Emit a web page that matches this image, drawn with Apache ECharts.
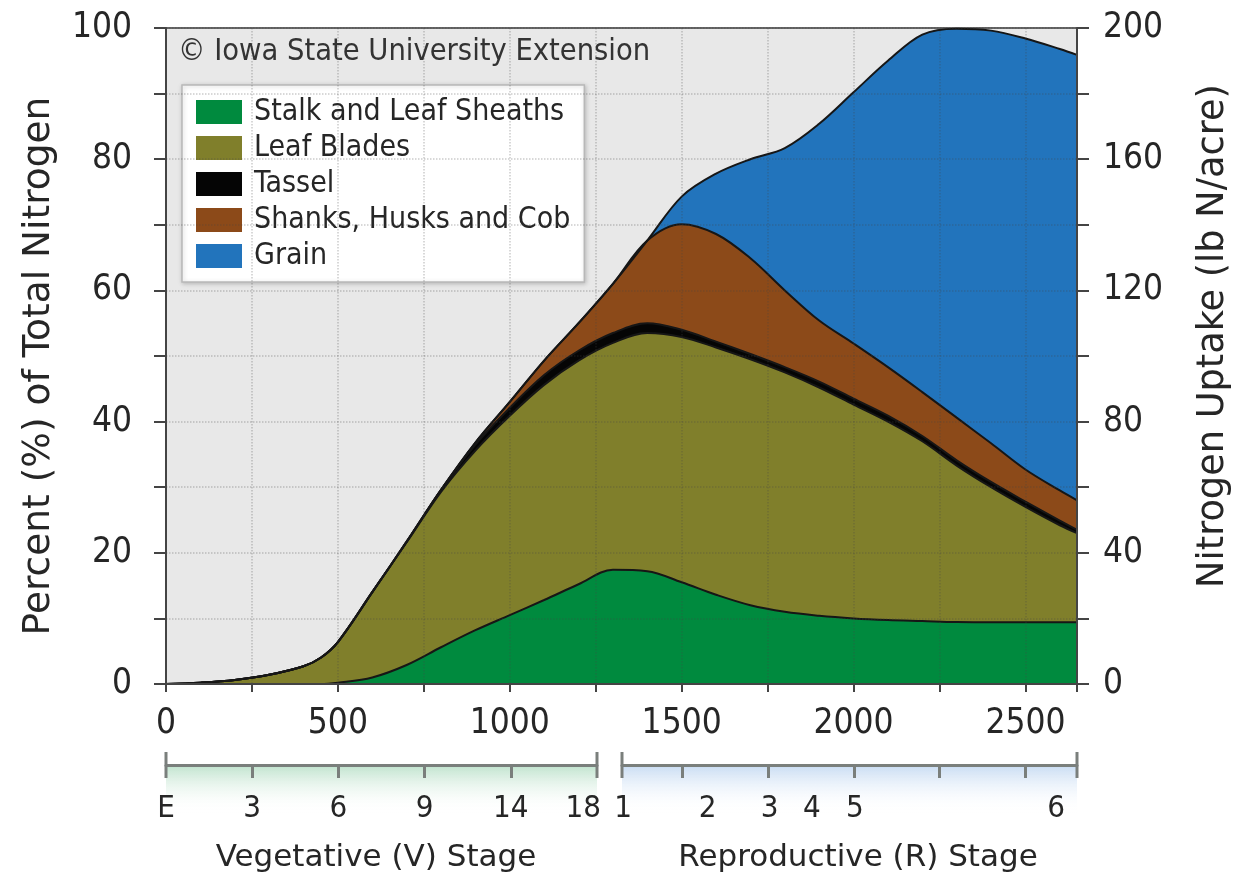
<!DOCTYPE html>
<html><head><meta charset="utf-8">
<script src="https://cdn.jsdelivr.net/npm/echarts@6/dist/echarts.min.js"></script>
<style>html,body{margin:0;padding:0;background:#fff}#c{width:1255px;height:879px}</style>
</head><body><div id="c"></div>
<script>
// Growing degree days (x positions of the samples)
const gdd = [0,100,200,300,400,450,500,600,700,800,900,1000,1100,1200,1300,1400,1500,1600,1700,1800,1900,2000,2100,2200,2300,2400,2500,2600,2650];
// Layer thickness (% of total N), stacked bottom to top
const stalk      = [0,0,0,0,0,0,0.2,1.0,2.9,5.6,8.2,10.5,12.8,15.2,17.4,17.2,15.5,13.6,12.0,11.0,10.4,10.0,9.75,9.6,9.45,9.4,9.4,9.4,9.4];
const leafBlades = [0,0.2,0.6,1.4,2.7,4.0,6.2,13.0,18.7,23.7,27.4,30.4,32.8,34.1,34.6,36.3,37.4,37.7,37.5,36.5,34.8,32.6,30.25,27.4,23.85,20.6,17.6,14.8,13.6];
const tassel     = [0,0,0,0,0,0,0,0,0.1,0.3,0.9,1.2,1.5,1.5,1.5,1.5,1.1,0.9,0.8,0.8,0.9,0.9,0.9,0.8,0.8,0.8,0.8,0.7,0.5];
const shanks     = [0,0,0,0,0,0,0,0,0,0,0.3,0.9,2.2,4.2,7.5,12.6,16.1,16.4,14.6,11.7,9.3,8.4,7.4,6.7,6.5,5.9,4.9,4.6,4.5];
const grain      = [0,0,0,0,0,0,0,0,0,0,0,0,0,0,0,0,4.2,9.2,15.1,21.7,30.0,38.3,46.7,54.5,59.3,62.9,65.7,67.3,67.9];

const seriesNames = ['Stalk and Leaf Sheaths','Leaf Blades','Tassel','Shanks, Husks and Cob','Grain'];
const xTickLabels = [0,500,1000,1500,2000,2500];

// Growth stage scales
const stageVTicks = [250,500,750,1000];
const stageVRange = [0,1250];
const stageVLabelPos = [0,250,500,750,1000,1210];
const stageVLabels = ['E','3','6','9','14','18'];
const stageRTicks = [1500,1750,2000,2250,2500];
const stageRRange = [1325,2650];
const stageRLabelPos = [1328,1574,1755,1878,2003,2589];
const stageRLabels = ['1','2','3','4','5','6'];

const FONT = 'DejaVu Sans';
const CFONT = "'DejaVu Sans Condensed', 'DejaVu Sans'";
const TXT = '#262626';
const fills = ['#008a3e','#807f2b','#050505','#8c4a19','#2274bc'];
const layers = [stalk, leafBlades, tassel, shanks, grain];
// cumulative tops of the stacked layers
const cumulative = layers.map((_, k) => gdd.map((x, i) => {
  let s = 0; for (let j = 0; j <= k; j++) s += layers[j][i]; return +s.toFixed(3);
}));

const chart = echarts.init(document.getElementById('c'), null, {renderer:'canvas'});

function stageAxis(gridIndex, range, ticks, labelPos, labels){
  return {
    gridIndex, type:'value', position:'top', min:range[0], max:range[1],
    axisLine:{show:true, onZero:false, symbol:['rect','rect'], symbolSize:[26,3], lineStyle:{color:'#7a7f7c', width:3}},
    axisTick:{show:true, inside:true, length:13, customValues:ticks, lineStyle:{color:'#7a7f7c', width:3}},
    axisLabel:{show:true, inside:true, margin:28, customValues:labelPos,
      formatter:(v)=>{const i = labelPos.indexOf(v); return i>=0 ? labels[i] : '';},
      fontFamily:CFONT, fontSize:31, color:TXT},
    splitLine:{show:false}
  };
}
function hiddenY(gridIndex){
  return {gridIndex, type:'value', min:0, max:1, show:false};
}

// draw from the top layer down so lower layers paint over upper cumulative areas
const series = [];
for (let k = layers.length - 1; k >= 0; k--) {
  series.push({
    name: seriesNames[k], type:'line', xAxisIndex:0, yAxisIndex:0, smooth:0.35, symbol:'none',
    data: gdd.map((x,i)=>[x, cumulative[k][i]]),
    itemStyle:{color:fills[k]},
    lineStyle:{color:'#161616', width:2},
    areaStyle:{color:fills[k], opacity:1},
    z:2
  });
}

const option = {
  animation:false,
  textStyle:{fontFamily:FONT},
  title:[
    {text:'© Iowa State University Extension', left:178, top:37, padding:0,
     textStyle:{fontFamily:CFONT, fontSize:30.5, fontWeight:'normal', color:'#333'}},
    {text:'Vegetative (V) Stage', left:376, top:842, padding:0, textAlign:'center',
     textStyle:{fontFamily:FONT, fontSize:31, fontWeight:'normal', color:TXT}},
    {text:'Reproductive (R) Stage', left:858, top:842, padding:0, textAlign:'center',
     textStyle:{fontFamily:FONT, fontSize:31, fontWeight:'normal', color:TXT}}
  ],
  legend:{
    orient:'vertical', left:182, top:85, itemWidth:46, itemHeight:24, itemGap:6,
    padding:[12,14,11,14], backgroundColor:'#fff', borderColor:'#b8b8b8', borderWidth:1.5,
    shadowColor:'rgba(0,0,0,0.2)', shadowBlur:4, shadowOffsetX:1, shadowOffsetY:1,
    icon:'rect', selectedMode:false, data:seriesNames,
    textStyle:{fontFamily:CFONT, fontSize:30, color:TXT, padding:[0,0,0,7]}
  },
  grid:[
    {left:166, right:178, top:28, bottom:195, show:true, backgroundColor:'#e8e8e8', borderColor:'#666', borderWidth:2},
    {left:166, width:431, top:765, height:48, show:true, borderWidth:0,
     backgroundColor:new echarts.graphic.LinearGradient(0,0,0,1,[{offset:0,color:'#bfe3cd'},{offset:1,color:'rgba(255,255,255,0)'}])},
    {left:622, width:455, top:765, height:48, show:true, borderWidth:0,
     backgroundColor:new echarts.graphic.LinearGradient(0,0,0,1,[{offset:0,color:'#c8dcf3'},{offset:1,color:'rgba(255,255,255,0)'}])}
  ],
  xAxis:[
    {gridIndex:0, type:'value', min:0, max:2650, interval:250, z:5,
     axisLine:{show:true, onZero:false, lineStyle:{color:'#444', width:2}},
     axisTick:{show:true, length:8, lineStyle:{color:'#444', width:2}},
     axisLabel:{fontFamily:CFONT, fontSize:35, color:TXT, margin:22,
       formatter:(v)=> xTickLabels.indexOf(v)>=0 ? String(v) : ''},
     splitLine:{show:true, lineStyle:{type:'dotted', color:'rgba(70,70,70,0.28)', width:1.5}}},
    stageAxis(1, stageVRange, stageVTicks, stageVLabelPos, stageVLabels),
    stageAxis(2, stageRRange, stageRTicks, stageRLabelPos, stageRLabels)
  ],
  yAxis:[
    {gridIndex:0, type:'value', position:'left', min:0, max:100, interval:20, z:5,
     axisLine:{show:true, onZero:false, lineStyle:{color:'#444', width:2}},
     axisTick:{show:true, length:12, lineStyle:{color:'#444', width:2}},
     minorTick:{show:true, splitNumber:2, length:12, lineStyle:{color:'#444', width:2}},
     axisLabel:{fontFamily:CFONT, fontSize:35, color:TXT, margin:34},
     splitLine:{show:true, lineStyle:{type:'dotted', color:'rgba(70,70,70,0.28)', width:1.5}},
     minorSplitLine:{show:true, lineStyle:{type:'dotted', color:'rgba(70,70,70,0.28)', width:1.5}},
     name:'Percent (%) of Total Nitrogen', nameLocation:'middle', nameGap:108, nameRotate:90,
     nameTextStyle:{fontFamily:FONT, fontSize:37.5, color:TXT, padding:[0,20,0,0]}},
    {gridIndex:0, type:'value', position:'right', min:0, max:200, interval:40, z:5,
     axisLine:{show:true, onZero:false, lineStyle:{color:'#444', width:2}},
     axisTick:{show:true, length:12, lineStyle:{color:'#444', width:2}},
     minorTick:{show:true, splitNumber:2, length:12, lineStyle:{color:'#444', width:2}},
     axisLabel:{fontFamily:CFONT, fontSize:35, color:TXT, margin:26},
     splitLine:{show:false},
     name:'Nitrogen Uptake (lb N/acre)', nameLocation:'middle', nameGap:118, nameRotate:90,
     nameTextStyle:{fontFamily:FONT, fontSize:36.7, color:TXT, padding:[0,0,0,40]}},
    hiddenY(1), hiddenY(2)
  ],
  series
};
chart.setOption(option);
</script>
</body></html>
